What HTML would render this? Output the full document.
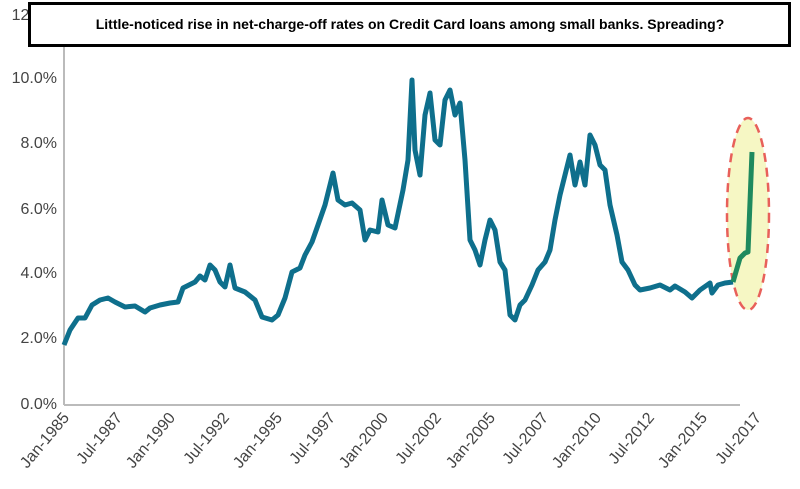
<!DOCTYPE html>
<html><head><style>
body{margin:0;background:#fff;}
svg{display:block;font-family:"Liberation Sans",sans-serif;}
</style></head><body>
<svg width="800" height="489" viewBox="0 0 800 489">
<g fill="#444" font-size="16" text-anchor="end">
<text x="57" y="20">12.0%</text>
<text x="57" y="83">10.0%</text>
<text x="57" y="148">8.0%</text>
<text x="57" y="214">6.0%</text>
<text x="57" y="278">4.0%</text>
<text x="57" y="343">2.0%</text>
<text x="57" y="409">0.0%</text>
</g>
<line x1="64" y1="45" x2="64" y2="405" stroke="#bbb" stroke-width="2"/>
<line x1="64" y1="405" x2="740" y2="405" stroke="#bbb" stroke-width="2"/>
<ellipse cx="748" cy="214" rx="21" ry="96" fill="#f6f7c4" stroke="#e8605a" stroke-width="2.5" stroke-dasharray="9,6"/>
<polyline fill="none" stroke="#0e6f8c" stroke-width="5" stroke-linejoin="round" points="64,345 70,330 78,318 85,318 92,305 100,300 108,298 115,302 125,307 135,306 145,312 150,308 160,305 170,303 178,302 183,288 195,282 200,276 205,280 210,265 215,270 220,282 225,287 230,265 235,288 245,292 255,300 262,317 272,320 278,315 285,298 292,272 300,268 305,255 312,242 318,225 325,205 333,173 338,200 345,205 352,203 360,210 365,240 370,230 378,232 382,200 388,225 395,228 403,190 408,160 412,80 415,150 420,175 425,115 430,93 435,140 440,145 445,100 450,90 455,115 460,103 465,160 470,240 475,250 480,265 485,240 490,220 495,230 500,262 505,270 510,315 515,320 520,305 525,300 532,285 538,270 545,262 550,250 555,220 560,195 565,175 570,155 575,185 580,162 585,185 590,135 595,145 600,165 605,170 610,205 617,235 622,262 628,270 635,285 640,290 650,288 660,285 670,290 675,286 685,292 692,298 700,290 710,283 712,293 718,285 725,283 733,282"/>
<polyline fill="none" stroke="#1f8a5e" stroke-width="5" stroke-linejoin="round" points="733,282 740,258 745,253 748,252 752,152"/>
<g fill="#444" font-size="16" text-anchor="end">
<text transform="translate(70,418) rotate(-50)">Jan-1985</text>
<text transform="translate(123,418) rotate(-50)">Jul-1987</text>
<text transform="translate(176,418) rotate(-50)">Jan-1990</text>
<text transform="translate(230,418) rotate(-50)">Jul-1992</text>
<text transform="translate(283,418) rotate(-50)">Jan-1995</text>
<text transform="translate(336,418) rotate(-50)">Jul-1997</text>
<text transform="translate(389,418) rotate(-50)">Jan-2000</text>
<text transform="translate(442,418) rotate(-50)">Jul-2002</text>
<text transform="translate(496,418) rotate(-50)">Jan-2005</text>
<text transform="translate(549,418) rotate(-50)">Jul-2007</text>
<text transform="translate(602,418) rotate(-50)">Jan-2010</text>
<text transform="translate(655,418) rotate(-50)">Jul-2012</text>
<text transform="translate(708,418) rotate(-50)">Jan-2015</text>
<text transform="translate(762,418) rotate(-50)">Jul-2017</text>
</g>
<rect x="29.5" y="3.5" width="760" height="42" fill="#fff" stroke="#000" stroke-width="3"/>
<text x="410" y="29" text-anchor="middle" font-size="14" font-weight="bold" fill="#000">Little-noticed rise in net-charge-off rates on Credit Card loans among small banks. Spreading?</text>
</svg>
</body></html>
